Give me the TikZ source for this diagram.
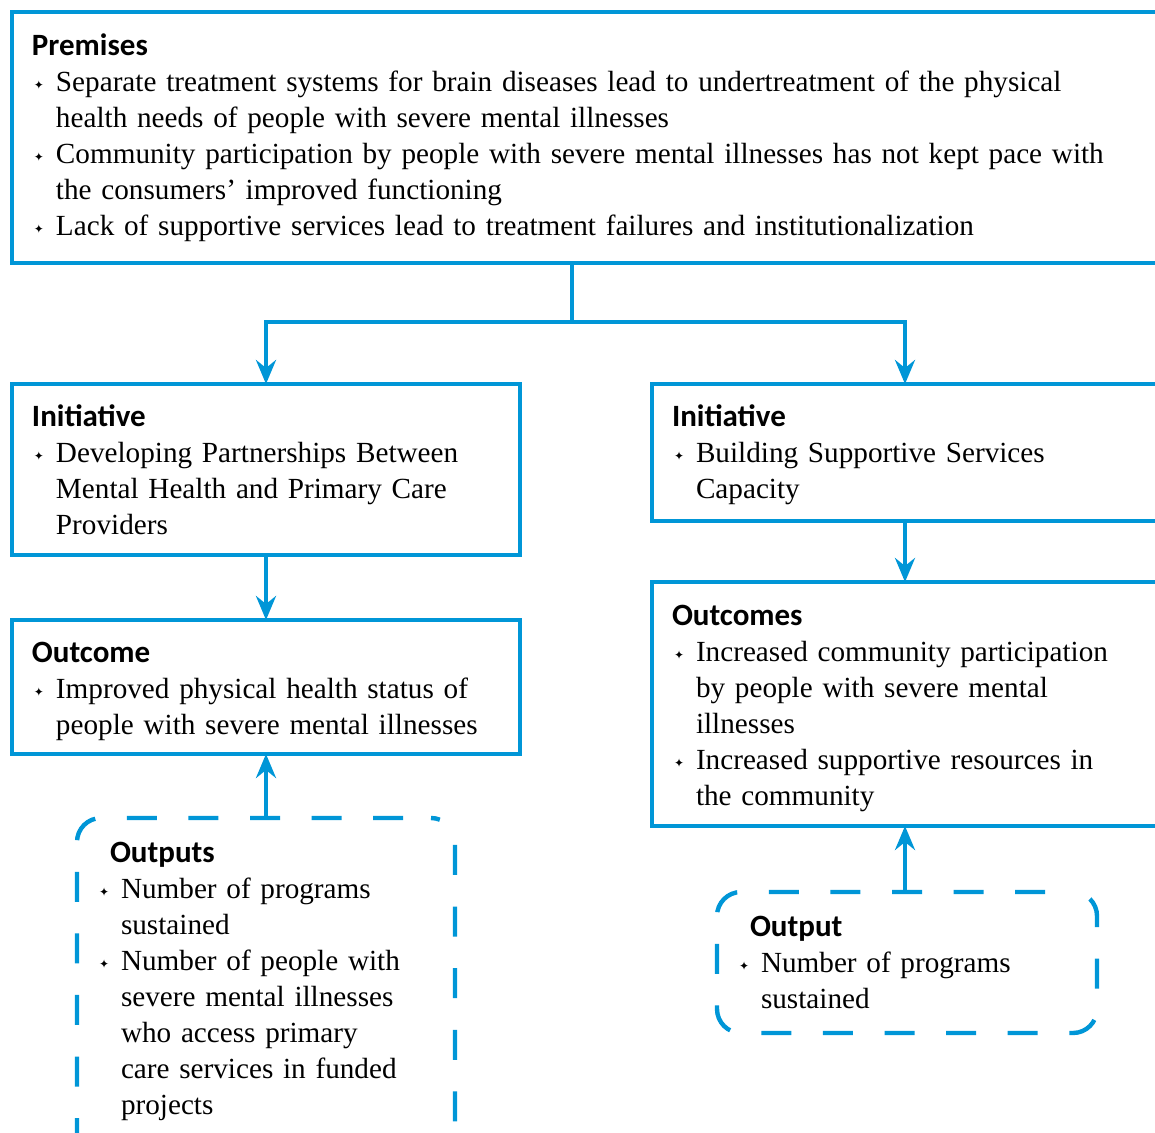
\documentclass[tikz,border=0pt]{standalone}
\usepackage{fontspec}
\setmainfont{Liberation Serif}
\newfontfamily\headfont{Carlito}
\newfontfamily\bulfont{DejaVu Sans}
\usetikzlibrary{arrows.meta, positioning}
\definecolor{frameblue}{RGB}{0,150,215}
\newcommand{\boxhead}[2][0pt]{{\headfont\bfseries\fontsize{15.5}{18}\selectfont\rule{0pt}{#1}#2}\par}
\newcommand{\bitem}[1]{\par\hangindent=12pt\hangafter=1\noindent
  \makebox[12pt][l]{\hspace{1pt}\raisebox{1pt}{\bulfont\fontsize{6}{6}\selectfont ✦}}#1\par}

\begin{document}
\begin{tikzpicture}[x=0.5pt, y=-0.5pt,
    box/.style={draw=frameblue, line width=2.2pt, anchor=north west, align=left,
      inner xsep=10pt, inner ysep=0pt, outer sep=0pt,
      font=\fontsize{14.6}{18}\selectfont},
    dashbox/.style={box, rounded corners=12pt, dash pattern=on 15pt off 15.8pt, dash phase=16.9pt},
    link/.style={frameblue, line width=2.2pt},
    arr/.style={link, -{Stealth[length=12pt, width=10pt, inset=4pt]}}]
    \useasboundingbox (0,0) rectangle (1155,1133);
    \clip (0,0) rectangle (1155,1133);

    % Premises
    \node[box, text width=560pt, minimum height=125.5pt] (prem) at (12,12) {%
      \boxhead{Premises}
      \bitem{Separate treatment systems for brain diseases lead to undertreatment of the physical\newline health needs of people with severe mental illnesses}
      \bitem{Community participation by people with severe mental illnesses has not kept pace with\newline the consumers’ improved functioning}
      \bitem{Lack of supportive services lead to treatment failures and institutionalization}};

    % Left column
    \node[box, text width=234pt, minimum height=85.5pt] (init1) at (12,384) {%
      \boxhead{Initiative}
      \bitem{Developing Partnerships Between\newline Mental Health and Primary Care\newline Providers}};
    \node[box, text width=234pt, minimum height=67pt] (outc1) at (12,620) {%
      \boxhead[15pt]{Outcome}
      \bitem{Improved physical health status of\newline people with severe mental illnesses}};
    \node[dashbox, text width=169pt, inner ysep=12pt] (outp1) at (77,818) {%
      \boxhead{\hspace*{6.5pt}Outputs}
      \bitem{Number of programs\newline sustained}
      \bitem{Number of people with\newline severe mental illnesses\newline who access primary\newline care services in funded\newline projects\rule[-40pt]{0pt}{0pt}}};

    % Right column
    \node[box, text width=280pt, minimum height=68.5pt] (init2) at (652,384) {%
      \boxhead[13pt]{Initiative}
      \bitem{Building Supportive Services\newline Capacity}};
    \node[box, text width=280pt, minimum height=122pt] (outc2) at (652,582) {%
      \boxhead[15pt]{Outcomes}
      \bitem{Increased community participation\newline by people with severe mental\newline illnesses}
      \bitem{Increased supportive resources in\newline the community}};
    \node[dashbox, text width=170pt, minimum height=70.5pt] (outp2) at (717,892) {%
      \boxhead{\hspace*{6.5pt}Output}
      \bitem{Number of programs\newline sustained}};

    % Connectors
    \coordinate (split) at (572,322);
    \coordinate (rcol) at (905,0);
    \draw[link] (prem.south -| split) -- (split);
    \draw[arr] (split) -| (init1.north);
    \draw[arr] (split) -| (init2.north -| rcol);
    \draw[arr] (init1.south) -- (outc1.north);
    \draw[arr] (init2.south -| rcol) -- (outc2.north -| rcol);
    \draw[arr] (outp1.north) -- (outc1.south);
    \draw[arr] (outp2.north -| rcol) -- (outc2.south -| rcol);
\end{tikzpicture}
\end{document}
